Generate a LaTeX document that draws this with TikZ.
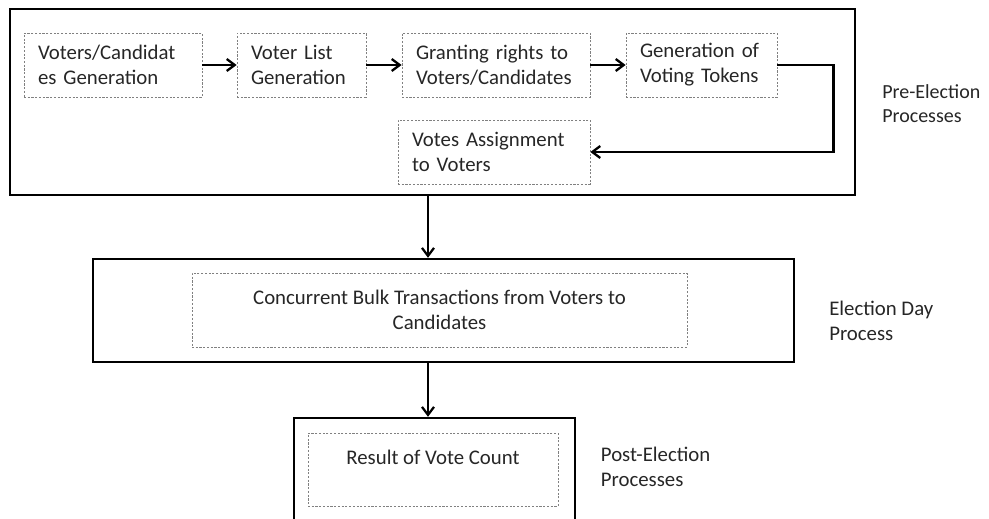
\documentclass[tikz,border=0pt]{standalone}
\usepackage{fontspec}
\setmainfont{Carlito}
\usetikzlibrary{positioning,arrows.meta}

\begin{document}
\begin{tikzpicture}[x=0.75pt, y=-0.75pt,
    every node/.style={font=\fontsize{15.6}{18.8}\selectfont, text=black!85},
    stage/.style={draw, line width=1.8pt},
    task/.style={draw=gray, line width=0.6pt, dash pattern=on 1.6pt off 1.2pt, inner xsep=10.5pt, align=left},
    arr/.style={line width=1.7pt, -{Straight Barb[length=6pt, width=9pt]}}]
    \clip (0,0) rectangle (989,518);

    % pre-election stage
    \node[stage, minimum width=633.75pt, minimum height=139.5pt] (pre) at (432.5, 102) {};
    \node[task, text width=112.5pt, minimum height=48pt] (gen) at (113, 65) {Voters/Candidat\\es Generation};
    \node[task, text width=75.75pt, minimum height=48pt] (list) at (301.5, 65) {Voter List\\Generation};
    \node[task, text width=120pt, minimum height=48pt] (rights) at (496, 65) {Granting rights to\\Voters/Candidates};
    \node[task, text width=92.25pt, minimum height=48pt] (tokens) at (701.5, 65) {Generation of\\Voting Tokens};
    \node[task, text width=123pt, minimum height=48pt] (assign) at (494, 152) {Votes Assignment\\to Voters};
    \node[anchor=west, align=left, font=\fontsize{15}{18}\selectfont] (prelbl) at ([xshift=16pt, yshift=-1.5pt]pre.east) {Pre-Election\\Processes};

    % election day stage
    \node[stage, minimum width=525.75pt, minimum height=77.25pt] (day) at (443.5, 310.5) {};
    \node[task, align=center, minimum width=371.25pt, minimum height=55.5pt] (bulk) at (439.5, 310) {Concurrent Bulk Transactions from Voters to\\Candidates};
    \node[anchor=west, align=left] (daylbl) at ([xshift=22pt, yshift=-8pt]day.east) {Election Day\\Process};

    % post-election stage
    \node[stage, minimum width=210.75pt, minimum height=91.5pt] (post) at (434.5, 479) {};
    \node[task, align=center, minimum width=187.5pt, minimum height=54.75pt] (count) at (433, 469.5) {Result of Vote Count\\\mbox{}};
    \node[anchor=west, align=left] (postlbl) at ([xshift=15pt, yshift=9pt]post.east) {Post-Election\\Processes};

    \draw[arr] (gen) -- (list);
    \draw[arr] (list) -- (rights);
    \draw[arr] (rights) -- (tokens);
    \draw[arr] (tokens.east) -- ++(56, 0) |- (assign.east);

    \coordinate (axis) at (428, 0);
    \draw[arr] (pre.south -| axis) -- (day.north -| axis);
    \draw[arr] (day.south -| axis) -- (post.north -| axis);
\end{tikzpicture}
\end{document}
